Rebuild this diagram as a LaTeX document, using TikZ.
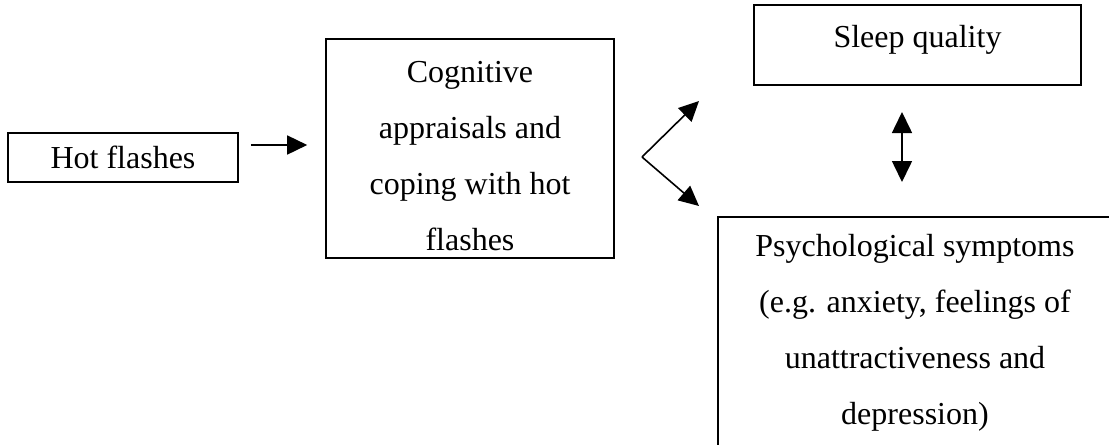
\documentclass[tikz,border=0pt]{standalone}
\usepackage{fontspec}
\setmainfont{Liberation Serif}
\usetikzlibrary{arrows.meta}
\begin{document}
\begin{tikzpicture}[x=1pt,y=-1pt,
  every node/.style={font=\fontsize{32}{56}\selectfont},
  box/.style={draw, line width=1.6pt, inner sep=0pt, align=center},
  arr/.style={line width=1.6pt, -{Triangle[length=20pt,width=19pt]}},
  dblarr/.style={line width=1.6pt, {Triangle[length=21pt,width=20pt]}-{Triangle[length=21pt,width=20pt]}},
  edge/.style={line width=1.6pt}]
\useasboundingbox (0,0) rectangle (1109,445);
\node[box, minimum width=230pt, minimum height=49pt] (hot) at (123,157.5) {Hot flashes};
\node[box, minimum width=288pt, minimum height=219pt, text height=203pt, text depth=0pt] (cog) at (470,148.5)
  {Cognitive\\appraisals and\\coping with hot\\flashes};
\node[box, minimum width=327pt, minimum height=80pt, text height=22pt, text depth=17pt] (sleep) at (917.5,45) {Sleep quality};
\node[align=center, inner sep=0pt] (psych) at (915,333)
  {Psychological symptoms\\(e.g. anxiety, feelings of\\unattractiveness and\\depression)};
\draw[edge] (1109,217) -- (718,217) -- (718,445);
\draw[arr, shorten <=12pt, shorten >=18pt] ([yshift=12.5pt]hot.east) -- ([yshift=3.5pt]cog.west);
\coordinate (v) at (642,157);
\coordinate (t1) at (699,101);
\coordinate (t2) at (699,206);
\draw[arr] (v) -- (t1);
\draw[arr] (v) -- (t2);
\coordinate (d1) at (902,112);
\coordinate (d2) at (902,182);
\draw[dblarr] (d1) -- (d2);
\end{tikzpicture}
\end{document}
